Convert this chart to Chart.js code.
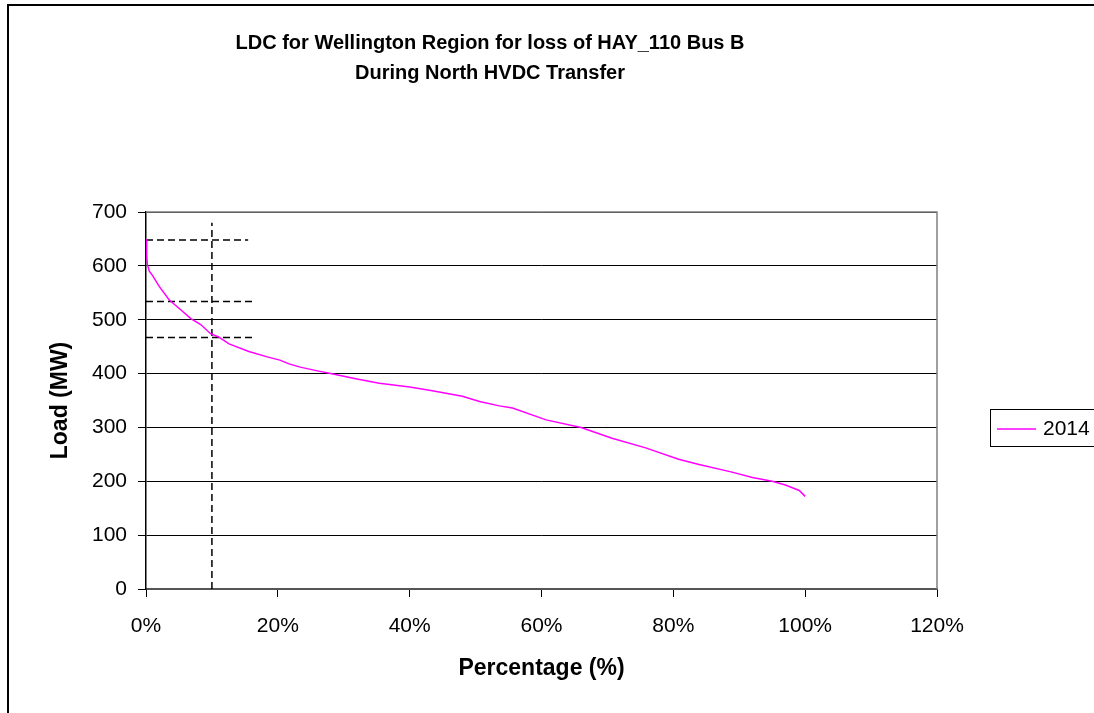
<!DOCTYPE html>
<html>
<head>
<meta charset="utf-8">
<script src="https://cdn.jsdelivr.net/npm/chart.js@4"></script>
<style>
  body { margin: 0; background: #fff; }
  canvas { display: block; }
</style>
</head>
<body>
<canvas id="myChart" width="1094" height="713"></canvas>
<script>
/** Data start */

const titleLines = ['LDC for Wellington Region for loss of HAY_110 Bus B', 'During North HVDC Transfer'];
const seriesName = '2014';

// percentage of time (%) and load (MW)
const pct  = [0, 0.1, 0.2, 0.5, 1, 2, 3.5, 5.3, 6.8, 8.3, 9.8, 11, 12.6, 15.6, 18.4, 20.3, 21.7, 23.4, 26, 28,
              32, 35.4, 40, 43, 48, 50.6, 53.6, 55.6, 60.7, 66, 70.7, 75.8, 80.8, 83.9, 88.9, 92, 95, 97, 99.1, 100];
const load = [650, 620, 603, 590, 582, 562, 537, 518, 502, 491, 474, 468, 455, 441, 431, 425, 418, 412, 405, 400,
              390, 382, 375, 369, 358, 348, 340, 336, 314, 300, 280, 262, 241, 231, 217, 207, 200, 193, 183, 172];

// dashed reference lines
const refLoads = [648, 534, 467];
const refEndPct = [15.5, 16.2, 16.2];
const refPct = 10;
const refTop = 680;

const xTicks = [0, 20, 40, 60, 80, 100, 120];
const yTicks = [0, 100, 200, 300, 400, 500, 600, 700];

/** Data end */

const FONT = '"Liberation Sans", Arial, sans-serif';

let points = pct.map((p, i) => ({ x: p, y: load[i] }));

let datasets = [{
    label: seriesName,
    data: points,
    borderColor: '#ff00ff',
    borderWidth: 1.5,
    pointRadius: 0,
    showLine: true,
    tension: 0
}];

refLoads.forEach((v, i) => {
    datasets.push({
        label: 'ref' + i,
        data: [{ x: 0, y: v }, { x: refEndPct[i], y: v }],
        borderColor: '#000',
        borderWidth: 1.5,
        borderDash: [7, 4],
        pointRadius: 0,
        showLine: true
    });
});
datasets.push({
    label: 'refV',
    data: [{ x: refPct, y: 0 }, { x: refPct, y: refTop }],
    borderColor: '#000',
    borderWidth: 1.5,
    borderDash: [7, 4],
    pointRadius: 0,
    showLine: true
});

// outer frame, plot border, title and legend
const decor = {
    id: 'decor',
    beforeDraw(chart) {
        const ctx = chart.ctx;
        ctx.save();
        ctx.fillStyle = '#fff';
        ctx.fillRect(0, 0, chart.width, chart.height);
        ctx.strokeStyle = '#000';
        ctx.lineWidth = 2;
        ctx.strokeRect(8, 5, 1300, 900);
        ctx.restore();
    },
    afterDraw(chart) {
        const ctx = chart.ctx;
        const a = chart.chartArea;
        ctx.save();
        ctx.strokeStyle = '#808080';
        ctx.lineWidth = 1.5;
        ctx.beginPath();
        ctx.moveTo(a.left, a.top);
        ctx.lineTo(a.right, a.top);
        ctx.lineTo(a.right, a.bottom);
        ctx.stroke();

        // title
        ctx.fillStyle = '#000';
        ctx.font = 'bold 20px ' + FONT;
        ctx.textAlign = 'center';
        ctx.textBaseline = 'middle';
        ctx.fillText(titleLines[0], 490, 43);
        ctx.fillText(titleLines[1], 490, 73);

        // legend
        ctx.strokeStyle = '#000';
        ctx.lineWidth = 1;
        ctx.strokeRect(990.5, 409.5, 200, 37);
        ctx.strokeStyle = '#ff00ff';
        ctx.lineWidth = 1.5;
        ctx.beginPath();
        ctx.moveTo(997, 429);
        ctx.lineTo(1036, 429);
        ctx.stroke();
        ctx.fillStyle = '#000';
        ctx.font = '21px ' + FONT;
        ctx.textAlign = 'left';
        ctx.fillText(seriesName, 1043, 429);
        ctx.restore();
    }
};

const config = {
    type: 'scatter',
    data: { datasets: datasets },
    options: {
        responsive: false,
        animation: false,
        devicePixelRatio: 1,
        layout: { padding: { left: 10, top: 212, right: 157, bottom: 0 } },
        plugins: {
            legend: { display: false },
            tooltip: { enabled: false }
        },
        scales: {
            x: {
                type: 'linear',
                min: 0,
                max: 120,
                afterFit: (s) => { s.height = 124; },
                afterBuildTicks: (s) => { s.ticks = xTicks.map(v => ({ value: v })); },
                ticks: {
                    color: '#000',
                    font: { family: FONT, size: 21 },
                    padding: 17,
                    maxRotation: 0,
                    callback: (v) => v + '%'
                },
                grid: { drawOnChartArea: false, drawTicks: true, tickLength: 8, color: '#000' },
                border: { color: '#555', width: 2 },
                title: {
                    display: true,
                    text: 'Percentage (%)',
                    color: '#000',
                    font: { family: FONT, size: 23, weight: 'bold' },
                    padding: { top: 0, bottom: 31 }
                }
            },
            y: {
                min: 0,
                max: 700,
                afterFit: (s) => { s.width = 136; },
                afterBuildTicks: (s) => { s.ticks = yTicks.map(v => ({ value: v })); },
                ticks: {
                    color: '#000',
                    font: { family: FONT, size: 21 },
                    padding: 11
                },
                grid: { color: '#000', lineWidth: 1, tickLength: 8 },
                border: { color: '#000', width: 1.5 },
                title: {
                    display: true,
                    text: 'Load (MW)',
                    color: '#000',
                    font: { family: FONT, size: 23, weight: 'bold' },
                    padding: { top: 37, bottom: 0 }
                }
            }
        }
    },
    plugins: [decor]
};

const myChart = new Chart(document.getElementById('myChart'), config);
</script>
</body>
</html>
